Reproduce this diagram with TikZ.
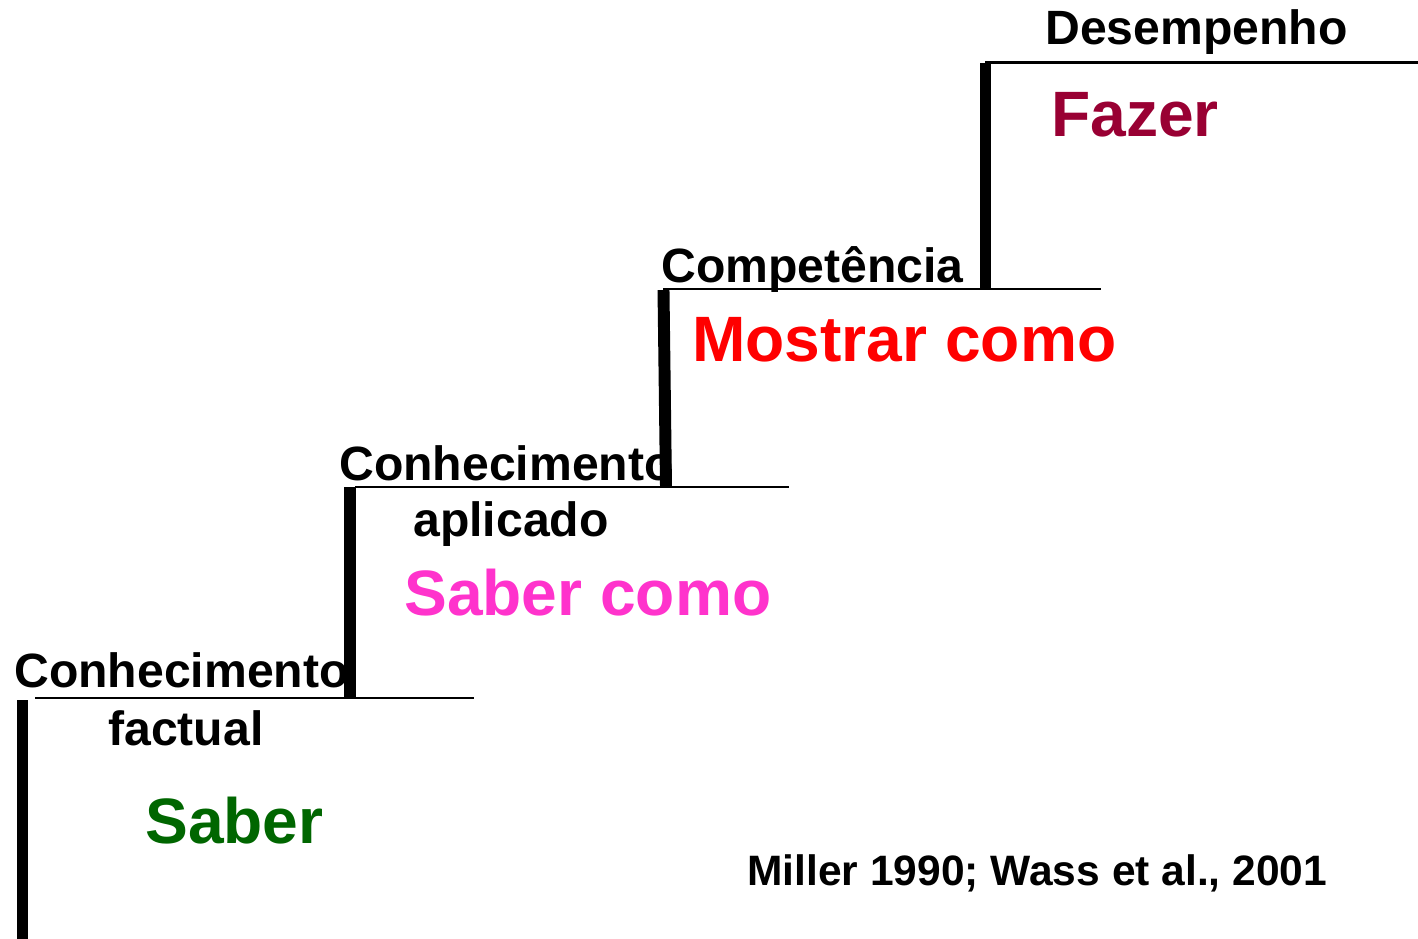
\documentclass[tikz,border=0pt]{standalone}
\usepackage{fontspec}
\setmainfont{Liberation Sans}
\usepackage{xcolor}
\usetikzlibrary{positioning,calc}
\definecolor{fazerred}{HTML}{990033}
\definecolor{mostrarred}{HTML}{FF0000}
\definecolor{sabermag}{HTML}{FF33CC}
\definecolor{sabergreen}{HTML}{006600}
\begin{document}
\begin{tikzpicture}[x=0.02cm,y=-0.02cm]
	\tikzstyle{riser} = [line width=6.8pt]
	\tikzstyle{tread} = [line width=1.7pt]
	\tikzstyle{steptitle} = [anchor=base west,inner sep=0pt,font=\fontsize{27.4}{30}\selectfont\bfseries]
	\tikzstyle{stepverb} = [anchor=base west,inner sep=0pt,font=\fontsize{36.5}{40}\selectfont\bfseries]
	\useasboundingbox (0,0) rectangle (1418,939);
	
	% corners of the steps
	\coordinate (R1a) at (22.5,700);  \coordinate (R1b) at (22.5,939);
	\coordinate (T1a) at (35,698);    \coordinate (T1b) at (474,698);
	\coordinate (R2a) at (350,487);   \coordinate (R2b) at (350,697);
	\coordinate (T2a) at (355,487);   \coordinate (T2b) at (789,487);
	\coordinate (R3a) at (663.5,290); \coordinate (R3b) at (666,487);
	\coordinate (T3a) at (663,289);   \coordinate (T3b) at (1101,289);
	\coordinate (R4a) at (985.5,63);  \coordinate (R4b) at (985.5,289);
	\coordinate (T4a) at (985,62.5);  \coordinate (T4b) at (1418,62.5);
	
	\draw[riser] (R1a) -- (R1b);
	\draw[tread] (T1a) -- (T1b);
	\draw[riser] (R2a) -- (R2b);
	\draw[tread] (T2a) -- (T2b);
	\draw[riser] (R3a) -- (R3b);
	\draw[tread] (T3a) -- (T3b);
	\draw[riser] (R4a) -- (R4b);
	\draw[tread] (T4a) -- (T4b);
	
	% step 1
	\node[steptitle] (K1) at (14,687) {Conhecimento};
	\node[steptitle] (K1b) at (108,745) {factual};
	\node[stepverb,text=sabergreen] (S1) at (145,843) {Saber};
	% step 2
	\node[steptitle] (K2) at (339,480) {Conhecimento};
	\node[steptitle] (K2b) at (413,537) {aplicado};
	\node[stepverb,text=sabermag] (S2) at (404,615) {Saber como};
	% step 3
	\node[steptitle] (K3) at (661,283) {Competência};
	\node[stepverb,text=mostrarred] (S3) at (692,362) {Mostrar como};
	% step 4
	\node[steptitle] (K4) at (1045,45) {Desempenho};
	\node[stepverb,text=fazerred] (S4) at (1051,137) {Fazer};
	
	\node[anchor=base west,inner sep=0pt,font=\fontsize{24.2}{28}\selectfont\bfseries] (ref) at (747,885) {Miller 1990; Wass et al., 2001};
	
\end{tikzpicture}
\end{document}
